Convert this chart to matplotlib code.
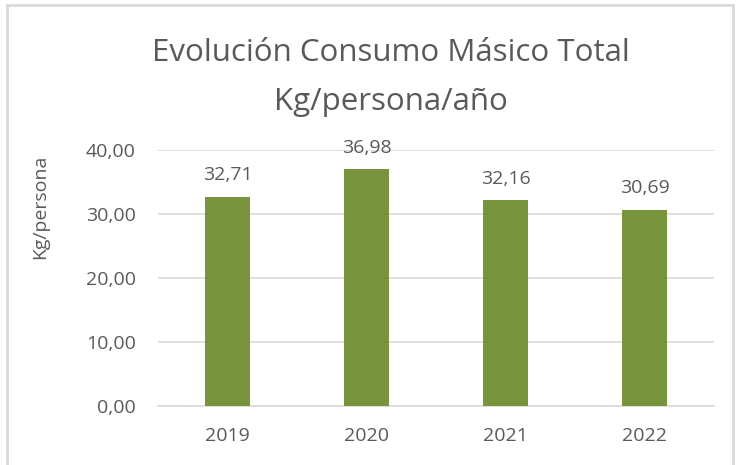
import matplotlib
matplotlib.use("Agg")
import matplotlib.pyplot as plt
from matplotlib.patches import Rectangle

categories = ["2019", "2020", "2021", "2022"]
values = [32.71, 36.98, 32.16, 30.69]
value_labels = ["32,71", "36,98", "32,16", "30,69"]
yticks = [0, 10, 20, 30, 40]
ytick_labels = ["0,00", "10,00", "20,00", "30,00", "40,00"]

plt.rcParams['font.family'] = ['Open Sans', 'DejaVu Sans']
TXT = "#595959"

W, H = 741, 465
fig = plt.figure(figsize=(W/100, H/100), dpi=100)
fig.patch.set_facecolor("white")

# outer frame
fig.patches.append(Rectangle((7/W, -0.02), (733-7)/W, (465-5)/H + 0.02,
                             transform=fig.transFigure, fill=False,
                             edgecolor="#D9D9D9", linewidth=2))

ax = fig.add_axes([158/W, 1-406/H, (714-158)/W, (406-150)/H])
x = range(len(categories))
ax.bar(x, values, width=0.33, color="#77933C", zorder=3)
ax.set_xlim(-0.5, len(categories)-0.5)
ax.set_ylim(0, 40)
ax.set_yticks(yticks)
ax.set_yticklabels(ytick_labels)
ax.set_xticks(list(x))
ax.set_xticklabels(categories)
ax.grid(axis="y", color="#D9D9D9", linewidth=1.2, zorder=0)
for s in ["top", "right", "left"]:
    ax.spines[s].set_visible(False)
ax.spines["bottom"].set_color("#D9D9D9")
ax.spines["bottom"].set_linewidth(1.2)
ax.tick_params(axis="both", length=0, colors=TXT, labelsize=14)
ax.tick_params(axis="y", pad=16)
ax.tick_params(axis="x", pad=15)

for i, (v, lab) in enumerate(zip(values, value_labels)):
    ax.annotate(lab, (i, v), xytext=(0, 9), textcoords="offset points",
                ha="center", va="bottom", color=TXT, fontsize=14)

fig.text(40/W, 1-207/H, "Kg/persona", rotation=90, ha="center", va="center",
         color=TXT, fontsize=14)

fig.text(391/W, 1-61/H, "Evolución Consumo Másico Total", ha="center", va="baseline",
         color=TXT, fontsize=22.5)
fig.text(391/W, 1-110/H, "Kg/persona/año", ha="center", va="baseline",
         color=TXT, fontsize=22.5)

fig.savefig("out.png", dpi=100, facecolor="white")
